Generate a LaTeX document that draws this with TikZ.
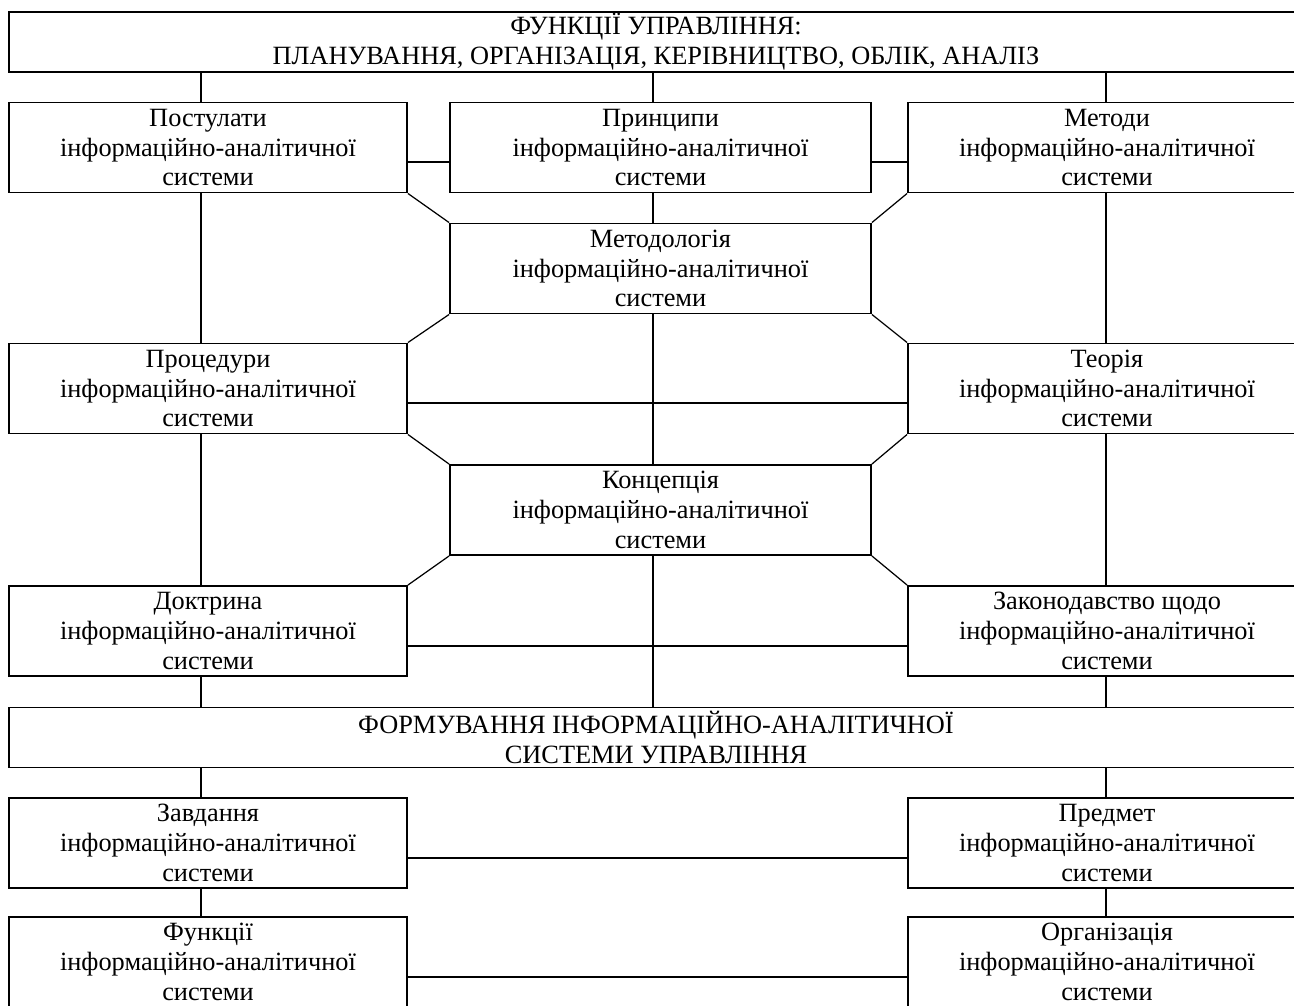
\documentclass[tikz,border=0pt]{standalone}
\usepackage{fontspec}
\setmainfont{Liberation Serif}
\begin{document}
\begin{tikzpicture}[x=0.02cm, y=-0.02cm,
  box/.style={draw, line width=1.1pt, inner sep=0pt, align=center, minimum height=1.8cm, font=\fontsize{15}{17}\selectfont},
  side/.style={box, minimum width=7.96cm},
  mid/.style={box, minimum width=8.42cm},
  wide/.style={box, minimum width=25.88cm, minimum height=1.2cm},
  link/.style={line width=1.1pt},
  slant/.style={line width=0.7pt}]
\useasboundingbox (0,0) rectangle (1294,1005);
\clip (0,0) rectangle (1294,1005);
\coordinate (lx) at (201,0);
\coordinate (cx) at (653,0);
\coordinate (rx) at (1106,0);
\node[wide] (blk0) at (656,42) {ФУНКЦІЇ УПРАВЛІННЯ:\\ПЛАНУВАННЯ, ОРГАНІЗАЦІЯ, КЕРІВНИЦТВО, ОБЛІК, АНАЛІЗ};
\node[side] (blk1) at (208,147.5) {Постулати\\інформаційно-аналітичної\\системи};
\node[mid] (blk2) at (660.5,147.5) {Принципи\\інформаційно-аналітичної\\системи};
\node[side] (blk3) at (1107,147.5) {Методи\\інформаційно-аналітичної\\системи};
\draw[link] (blk0.south -| lx) -- (blk1.north -| lx);
\draw[link] (blk0.south -| cx) -- (blk2.north -| cx);
\draw[link] (blk0.south -| rx) -- (blk3.north -| rx);
\draw[link] ([yshift=-8.5pt]blk1.east) -- ([yshift=-8.5pt]blk2.west);
\draw[link] ([yshift=-8.5pt]blk2.east) -- ([yshift=-8.5pt]blk3.west);
\node[mid] (blk4) at (660.5,268.5) {Методологія\\інформаційно-аналітичної\\системи};
\draw[link] (blk2.south -| cx) -- (blk4.north -| cx);
\draw[slant] (blk1.south east) -- (blk4.north west);
\draw[slant] (blk3.south west) -- (blk4.north east);
\node[side] (blk5) at (208,388.5) {Процедури\\інформаційно-аналітичної\\системи};
\node[side] (blk6) at (1107,388.5) {Теорія\\інформаційно-аналітичної\\системи};
\draw[link] (blk1.south -| lx) -- (blk5.north -| lx);
\draw[link] (blk3.south -| rx) -- (blk6.north -| rx);
\draw[slant] (blk4.south west) -- (blk5.north east);
\draw[slant] (blk4.south east) -- (blk6.north west);
\draw[link] ([yshift=-8.5pt]blk5.east) -- ([yshift=-8.5pt]blk6.west);
\node[mid] (blk7) at (660.5,510) {Концепція\\інформаційно-аналітичної\\системи};
\draw[link] (blk4.south -| cx) -- (blk7.north -| cx);
\draw[slant] (blk5.south east) -- (blk7.north west);
\draw[slant] (blk6.south west) -- (blk7.north east);
\node[side] (blk8) at (208,631) {Доктрина\\інформаційно-аналітичної\\системи};
\node[side] (blk9) at (1107,631) {Законодавство щодо\\інформаційно-аналітичної\\системи};
\draw[link] (blk5.south -| lx) -- (blk8.north -| lx);
\draw[link] (blk6.south -| rx) -- (blk9.north -| rx);
\draw[slant] (blk7.south west) -- (blk8.north east);
\draw[slant] (blk7.south east) -- (blk9.north west);
\draw[link] ([yshift=-8.5pt]blk8.east) -- ([yshift=-8.5pt]blk9.west);
\node[wide] (blk10) at (656,737.5) {ФОРМУВАННЯ ІНФОРМАЦІЙНО-АНАЛІТИЧНОЇ\\СИСТЕМИ УПРАВЛІННЯ};
\draw[link] (blk7.south -| cx) -- (blk10.north -| cx);
\draw[link] (blk8.south -| lx) -- (blk10.north -| lx);
\draw[link] (blk9.south -| rx) -- (blk10.north -| rx);
\node[side] (blk11) at (208,843) {Завдання\\інформаційно-аналітичної\\системи};
\node[side] (blk12) at (1107,843) {Предмет\\інформаційно-аналітичної\\системи};
\draw[link] (blk10.south -| lx) -- (blk11.north -| lx);
\draw[link] (blk10.south -| rx) -- (blk12.north -| rx);
\draw[link] ([yshift=-8.5pt]blk11.east) -- ([yshift=-8.5pt]blk12.west);
\node[side] (blk13) at (208,962) {Функції\\інформаційно-аналітичної\\системи};
\node[side] (blk14) at (1107,962) {Організація\\інформаційно-аналітичної\\системи};
\draw[link] (blk11.south -| lx) -- (blk13.north -| lx);
\draw[link] (blk12.south -| rx) -- (blk14.north -| rx);
\draw[link] ([yshift=-8.5pt]blk13.east) -- ([yshift=-8.5pt]blk14.west);
\end{tikzpicture}
\end{document}
